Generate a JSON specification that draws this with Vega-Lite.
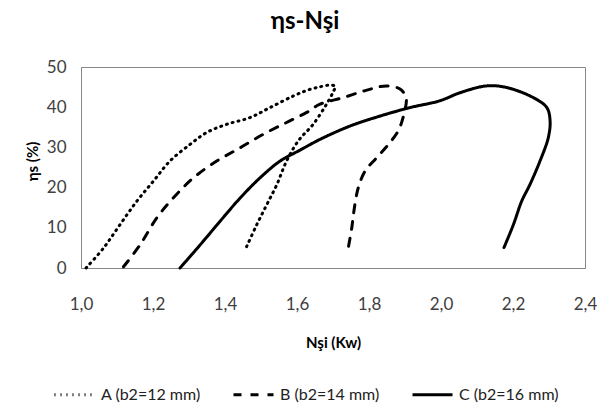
{
  "$schema": "https://vega.github.io/schema/vega-lite/v6.json",
  "width": 504,
  "height": 201,
  "autosize": {"type": "none"},
  "padding": {"left": 81, "top": 67, "right": 19, "bottom": 146},
  "background": "white",
  "title": {
    "text": "ηs-Nşi",
    "font": "Lato",
    "fontSize": 24,
    "fontWeight": "bold",
    "color": "black",
    "anchor": "middle",
    "frame": "group",
    "dx": -28,
    "offset": 24
  },
  "config": {
    "view": {"stroke": "#878787", "strokeWidth": 1},
    "font": "Lato"
  },
  "datasets": {
    "curves": [
      {"s": "A (b2=12 mm)", "i": 1, "n": 1.014, "e": 0},
      {"s": "A (b2=12 mm)", "i": 2, "n": 1.062, "e": 4.9},
      {"s": "A (b2=12 mm)", "i": 3, "n": 1.108, "e": 10.75},
      {"s": "A (b2=12 mm)", "i": 4, "n": 1.155, "e": 16.6},
      {"s": "A (b2=12 mm)", "i": 5, "n": 1.201, "e": 21.6},
      {"s": "A (b2=12 mm)", "i": 6, "n": 1.247, "e": 26.6},
      {"s": "A (b2=12 mm)", "i": 7, "n": 1.303, "e": 30.75},
      {"s": "A (b2=12 mm)", "i": 8, "n": 1.349, "e": 33.7},
      {"s": "A (b2=12 mm)", "i": 9, "n": 1.405, "e": 35.75},
      {"s": "A (b2=12 mm)", "i": 10, "n": 1.469, "e": 37.4},
      {"s": "A (b2=12 mm)", "i": 11, "n": 1.525, "e": 39.9},
      {"s": "A (b2=12 mm)", "i": 12, "n": 1.59, "e": 42.8},
      {"s": "A (b2=12 mm)", "i": 13, "n": 1.631, "e": 44.3},
      {"s": "A (b2=12 mm)", "i": 14, "n": 1.665, "e": 45.1},
      {"s": "A (b2=12 mm)", "i": 15, "n": 1.692, "e": 45.5},
      {"s": "A (b2=12 mm)", "i": 16, "n": 1.706, "e": 45.2},
      {"s": "A (b2=12 mm)", "i": 17, "n": 1.7, "e": 43.7},
      {"s": "A (b2=12 mm)", "i": 18, "n": 1.682, "e": 40.75},
      {"s": "A (b2=12 mm)", "i": 19, "n": 1.645, "e": 35.75},
      {"s": "A (b2=12 mm)", "i": 20, "n": 1.605, "e": 31.8},
      {"s": "A (b2=12 mm)", "i": 21, "n": 1.571, "e": 26.6},
      {"s": "A (b2=12 mm)", "i": 22, "n": 1.544, "e": 20.75},
      {"s": "A (b2=12 mm)", "i": 23, "n": 1.516, "e": 15.75},
      {"s": "A (b2=12 mm)", "i": 24, "n": 1.488, "e": 10.75},
      {"s": "A (b2=12 mm)", "i": 25, "n": 1.46, "e": 5.3},
      {"s": "B (b2=14 mm)", "i": 1, "n": 1.118, "e": 0.3},
      {"s": "B (b2=14 mm)", "i": 2, "n": 1.164, "e": 5.75},
      {"s": "B (b2=14 mm)", "i": 3, "n": 1.21, "e": 12.4},
      {"s": "B (b2=14 mm)", "i": 4, "n": 1.256, "e": 17.4},
      {"s": "B (b2=14 mm)", "i": 5, "n": 1.312, "e": 22.4},
      {"s": "B (b2=14 mm)", "i": 6, "n": 1.377, "e": 26.6},
      {"s": "B (b2=14 mm)", "i": 7, "n": 1.442, "e": 29.9},
      {"s": "B (b2=14 mm)", "i": 8, "n": 1.506, "e": 33.25},
      {"s": "B (b2=14 mm)", "i": 9, "n": 1.571, "e": 36.2},
      {"s": "B (b2=14 mm)", "i": 10, "n": 1.627, "e": 38.7},
      {"s": "B (b2=14 mm)", "i": 11, "n": 1.664, "e": 40.75},
      {"s": "B (b2=14 mm)", "i": 12, "n": 1.729, "e": 42.4},
      {"s": "B (b2=14 mm)", "i": 13, "n": 1.794, "e": 44.25},
      {"s": "B (b2=14 mm)", "i": 14, "n": 1.849, "e": 45.3},
      {"s": "B (b2=14 mm)", "i": 15, "n": 1.886, "e": 44.5},
      {"s": "B (b2=14 mm)", "i": 16, "n": 1.903, "e": 42.4},
      {"s": "B (b2=14 mm)", "i": 17, "n": 1.897, "e": 38.25},
      {"s": "B (b2=14 mm)", "i": 18, "n": 1.881, "e": 34.1},
      {"s": "B (b2=14 mm)", "i": 19, "n": 1.854, "e": 30.75},
      {"s": "B (b2=14 mm)", "i": 20, "n": 1.821, "e": 27.4},
      {"s": "B (b2=14 mm)", "i": 21, "n": 1.789, "e": 24.1},
      {"s": "B (b2=14 mm)", "i": 22, "n": 1.77, "e": 19.9},
      {"s": "B (b2=14 mm)", "i": 23, "n": 1.758, "e": 14.1},
      {"s": "B (b2=14 mm)", "i": 24, "n": 1.752, "e": 9.9},
      {"s": "B (b2=14 mm)", "i": 25, "n": 1.743, "e": 5.3},
      {"s": "C (b2=16 mm)", "i": 1, "n": 1.275, "e": 0},
      {"s": "C (b2=16 mm)", "i": 2, "n": 1.331, "e": 5.75},
      {"s": "C (b2=16 mm)", "i": 3, "n": 1.386, "e": 11.6},
      {"s": "C (b2=16 mm)", "i": 4, "n": 1.442, "e": 17.4},
      {"s": "C (b2=16 mm)", "i": 5, "n": 1.497, "e": 22.4},
      {"s": "C (b2=16 mm)", "i": 6, "n": 1.553, "e": 26.6},
      {"s": "C (b2=16 mm)", "i": 7, "n": 1.608, "e": 29.3},
      {"s": "C (b2=16 mm)", "i": 8, "n": 1.664, "e": 32},
      {"s": "C (b2=16 mm)", "i": 9, "n": 1.747, "e": 35.3},
      {"s": "C (b2=16 mm)", "i": 10, "n": 1.831, "e": 37.8},
      {"s": "C (b2=16 mm)", "i": 11, "n": 1.914, "e": 39.9},
      {"s": "C (b2=16 mm)", "i": 12, "n": 1.997, "e": 41.6},
      {"s": "C (b2=16 mm)", "i": 13, "n": 2.053, "e": 43.6},
      {"s": "C (b2=16 mm)", "i": 14, "n": 2.127, "e": 45.3},
      {"s": "C (b2=16 mm)", "i": 15, "n": 2.182, "e": 44.9},
      {"s": "C (b2=16 mm)", "i": 16, "n": 2.256, "e": 42.4},
      {"s": "C (b2=16 mm)", "i": 17, "n": 2.294, "e": 39.9},
      {"s": "C (b2=16 mm)", "i": 18, "n": 2.303, "e": 36.6},
      {"s": "C (b2=16 mm)", "i": 19, "n": 2.298, "e": 32.4},
      {"s": "C (b2=16 mm)", "i": 20, "n": 2.275, "e": 26.6},
      {"s": "C (b2=16 mm)", "i": 21, "n": 2.247, "e": 20.75},
      {"s": "C (b2=16 mm)", "i": 22, "n": 2.224, "e": 16.6},
      {"s": "C (b2=16 mm)", "i": 23, "n": 2.201, "e": 10.75},
      {"s": "C (b2=16 mm)", "i": 24, "n": 2.175, "e": 5.1}
    ]
  },
  "data": {"name": "curves"},
  "mark": {"type": "line", "interpolate": "catmull-rom", "strokeWidth": 3, "strokeCap": "round", "color": "black"},
  "encoding": {
    "x": {
      "field": "n",
      "type": "quantitative",
      "scale": {"domain": [1.0, 2.4], "nice": false, "zero": false},
      "axis": {
        "title": "Nşi (Kw)",
        "values": [1.0, 1.2, 1.4, 1.6, 1.8, 2.0, 2.2, 2.4],
        "labelExpr": "replace(format(datum.value, '.1f'), '.', ',')",
        "grid": false,
        "ticks": false,
        "domainColor": "#878787",
        "labelFont": "Lato",
        "labelFontSize": 17,
        "labelColor": "#404040",
        "labelPadding": 28,
        "labelFlush": false,
        "titleFont": "Lato",
        "titleFontSize": 15,
        "titleFontWeight": "bold",
        "titleColor": "black",
        "titleX": 252,
        "titleY": 79,
        "titleBaseline": "alphabetic"
      }
    },
    "y": {
      "field": "e",
      "type": "quantitative",
      "scale": {"domain": [0, 50], "nice": false},
      "axis": {
        "title": "ηs (%)",
        "values": [0, 10, 20, 30, 40, 50],
        "grid": false,
        "ticks": false,
        "domainColor": "#878787",
        "labelFont": "Lato",
        "labelFontSize": 17,
        "labelColor": "#404040",
        "labelPadding": 15,
        "labelFlush": false,
        "titleFont": "Lato",
        "titleFontSize": 15,
        "titleFontWeight": "bold",
        "titleColor": "black",
        "titleAngle": -90,
        "titleBaseline": "middle",
        "titleAlign": "center",
        "titleX": -49,
        "titleY": 94
      }
    },
    "strokeDash": {
      "field": "s",
      "type": "nominal",
      "scale": {
        "domain": ["A (b2=12 mm)", "B (b2=14 mm)", "C (b2=16 mm)"],
        "range": [[1, 5], [8, 9], [1, 0]]
      },
      "legend": {
        "title": null,
        "orient": "none",
        "direction": "horizontal",
        "legendX": -28,
        "legendY": 306,
        "symbolType": "stroke",
        "symbolSize": 1600,
        "symbolStrokeWidth": 3,
        "symbolStrokeColor": "black",
        "labelFont": "Lato",
        "labelFontSize": 16,
        "labelColor": "#222222",
        "labelOffset": 5,
        "columnPadding": 26
      }
    },
    "order": {"field": "i", "type": "quantitative"}
  }
}
